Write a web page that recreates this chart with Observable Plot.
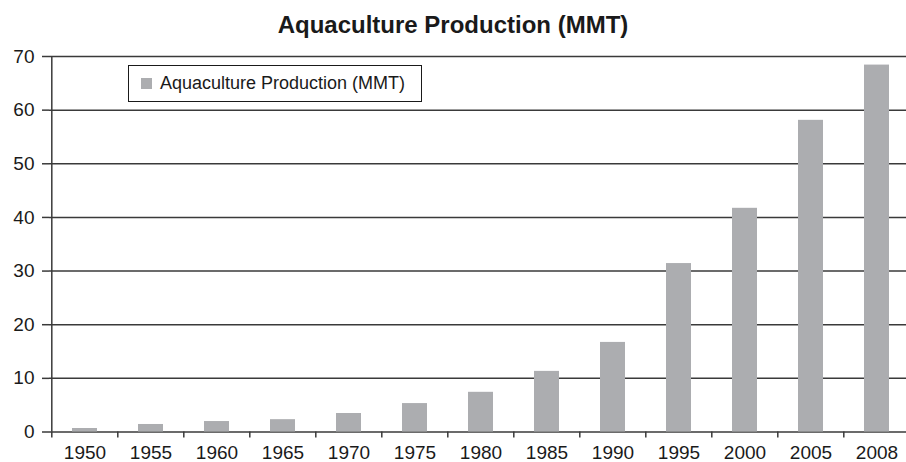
<!DOCTYPE html>
<html>
<head>
<meta charset="utf-8">
<script src="https://cdn.jsdelivr.net/npm/d3@7"></script>
<script src="https://cdn.jsdelivr.net/npm/@observablehq/plot@0.6"></script>
<style>
  html, body { margin: 0; padding: 0; background: #fff; }
  #wrap { position: relative; width: 906px; height: 462px; overflow: hidden; font-family: "Liberation Sans", Arial, sans-serif; }
  #title { height: 46px; box-sizing: border-box; padding-top: 11px; line-height: 28px; text-align: center; font-weight: bold; font-size: 24px; color: #1a1a1a; white-space: nowrap; }
  #legend { position: absolute; left: 128px; top: 65px; width: 294px; height: 37px; border: 1px solid #1a1a1a; background: #fff; box-sizing: border-box; display: flex; align-items: center; font-size: 18px; color: #1a1a1a; white-space: nowrap; }
  #legend .sw { width: 11px; height: 11px; background: #acadb0; margin-left: 12px; margin-right: 8px; flex: none; }
  svg { display: block; }
</style>
</head>
<body>
<div id="wrap">
  <div id="title">Aquaculture Production (MMT)</div>
  <div id="chart"></div>
  <div id="legend"><span class="sw"></span><span id="legendText"></span></div>
</div>
<script>
const years = ["1950","1955","1960","1965","1970","1975","1980","1985","1990","1995","2000","2005","2008"];
const production = [0.65, 1.4, 1.95, 2.3, 3.45, 5.3, 7.4, 11.3, 16.7, 31.4, 41.7, 58.1, 68.4];
const yTicks = [0, 10, 20, 30, 40, 50, 60, 70];
const seriesName = "Aquaculture Production (MMT)";

document.getElementById("legendText").textContent = seriesName;

const data = years.map((y, i) => ({year: y, value: production[i]}));

const xRange = [49, 912];
const step = (xRange[1] - xRange[0]) / years.length;

const chart = Plot.plot({
  width: 906,
  height: 416,
  marginTop: 10,
  marginBottom: 30.5,
  marginLeft: 49,
  marginRight: 0,
  style: {fontFamily: "Liberation Sans, Arial, sans-serif", fontSize: "19px", color: "#1a1a1a", background: "#fff"},
  x: {type: "band", domain: years, range: xRange, paddingInner: 0.62, paddingOuter: 0.31, align: 0.5, label: null},
  y: {domain: [0, 70], label: null},
  marks: [
    Plot.ruleY(yTicks, {stroke: "#3a3a3a", strokeWidth: 1.5}),
    Plot.barY(data, {x: "year", y: "value", fill: "#acadb0"}),
    Plot.ruleX([years[0]], {dx: -step / 2, stroke: "#3a3a3a", strokeWidth: 1.5, y1: 0, y2: 70}),
    Plot.axisY({ticks: yTicks, tickSize: 7, tickPadding: 8, stroke: "#3a3a3a", strokeWidth: 1.5, fontSize: 19, label: null}),
    Plot.axisX({tickSize: 6, dx: -step / 2, text: null, stroke: "#3a3a3a", strokeWidth: 1.5, label: null}),
    Plot.axisX({tickSize: 0, tickPadding: 13.5, fontSize: 19, label: null})
  ]
});
document.getElementById("chart").appendChild(chart);
</script>
</body>
</html>
